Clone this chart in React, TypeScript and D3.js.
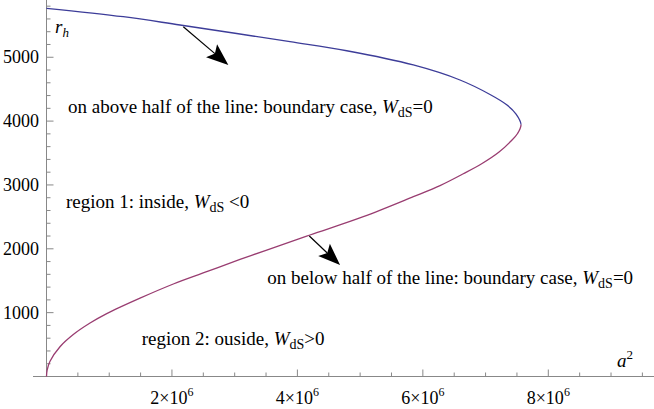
import React from "react";
import * as d3 from "d3";

// a^2 (in units of 1e6) and r_h along the lower branch (purple) then the upper branch (blue)
const lowerA2 = [0, 0.01, 0.056, 0.215, 0.427, 0.694, 0.96, 1.491, 2.022, 2.554, 3.085, 3.511, 4.2, 5.051, 5.848, 6.274, 6.645, 6.944, 7.215, 7.406, 7.51];
const lowerR = [0, 100, 238, 466, 657, 837, 985, 1227, 1449, 1641, 1834, 1981, 2216, 2503, 2816, 2990, 3175, 3336, 3516, 3688, 3806];
const noseA2 = 7.565;
const noseR = 3947;
const upperA2 = [7.486, 7.342, 7.071, 6.592, 5.848, 4.786, 3.882, 2.128, 1.224, 0];
const upperR = [4111, 4252, 4417, 4644, 4879, 5102, 5244, 5505, 5635, 5767];

const xMajor = [2, 4, 6, 8];
const yMajor = [1000, 2000, 3000, 4000, 5000];

const W = 654, H = 409;
const BLUE = "#3D3D99";
const PURPLE = "#993D71";
const AXIS = "#888888";
const FONT = "'Liberation Serif', 'Times New Roman', 'DejaVu Serif', serif";

export default function App() {
  const x = d3.scaleLinear().domain([0, 8]).range([46.5, 548.3]);
  const y = d3.scaleLinear().domain([0, 5000]).range([376.5, 57.25]);

  const line = d3
    .line<[number, number]>()
    .x((d) => x(d[0]))
    .y((d) => y(d[1]))
    .curve(d3.curveCatmullRom.alpha(0.5));

  const pts: [number, number][] = [
    ...lowerA2.map((a, i) => [a, lowerR[i]] as [number, number]),
    [noseA2, noseR],
    ...upperA2.map((a, i) => [a, upperR[i]] as [number, number]),
  ];
  const d = line(pts) || "";
  const split = y(noseR);

  const xMinor = d3.range(0.5, 9.75, 0.5).filter((v) => Math.abs(v % 2) > 1e-9);
  const yMinor = d3.range(200, 5801, 200).filter((v) => v % 1000 !== 0);

  const x0 = x(0);
  const y0 = y(0);

  const arrow = (sx: number, sy: number, tx: number, ty: number) => {
    const x1 = x(sx), y1 = y(sy), x2 = x(tx), y2 = y(ty);
    const dx = x2 - x1, dy = y2 - y1;
    const L = Math.hypot(dx, dy);
    const ux = dx / L, uy = dy / L;
    const px = -uy, py = ux;
    const hl = 22, hw = 8.5;
    const bx = x2 - ux * hl, by = y2 - uy * hl;
    const nx = x2 - ux * hl * 0.8, ny = y2 - uy * hl * 0.8;
    const head = `M${x2},${y2} L${bx + px * hw},${by + py * hw} L${nx},${ny} L${bx - px * hw},${by - py * hw} Z`;
    return (
      <g>
        <line x1={x1} y1={y1} x2={nx} y2={ny} stroke="#000" strokeWidth={1.2} />
        <path d={head} fill="#000" />
      </g>
    );
  };

  const fs = 19;
  const tstyle = { fontFamily: FONT };
  const wds = (rest: string, gap = false) => (
    <>
      <tspan fontStyle="italic">W</tspan>
      <tspan fontSize={14} dy={4}>dS</tspan>
      <tspan dy={-4}>{(gap ? " " : "") + rest}</tspan>
    </>
  );

  return (
    <svg width={W} height={H} style={{ position: "absolute", left: 0, top: 0, background: "#fff" }}>
      <defs>
        <clipPath id="clipLow">
          <rect x={0} y={split} width={W} height={H - split} />
        </clipPath>
        <clipPath id="clipHigh">
          <rect x={0} y={0} width={W} height={split} />
        </clipPath>
      </defs>
      {/* axes */}
      <line x1={33} y1={y0} x2={654} y2={y0} stroke={AXIS} strokeWidth={1} />
      <line x1={x0} y1={0} x2={x0} y2={y0} stroke={AXIS} strokeWidth={1} />
      {xMajor.map((v) => (
        <line key={"xM" + v} x1={x(v)} x2={x(v)} y1={y0} y2={y0 - 7} stroke={AXIS} />
      ))}
      {xMinor.map((v) => (
        <line key={"xm" + v} x1={x(v)} x2={x(v)} y1={y0} y2={y0 - 4} stroke={AXIS} />
      ))}
      {yMajor.map((v) => (
        <line key={"yM" + v} x1={x0} x2={x0 + 7} y1={y(v)} y2={y(v)} stroke={AXIS} />
      ))}
      {yMinor.map((v) => (
        <line key={"ym" + v} x1={x0} x2={x0 + 4} y1={y(v)} y2={y(v)} stroke={AXIS} />
      ))}
      {xMajor.map((v) => (
        <text key={"xl" + v} x={x(v)} y={404} textAnchor="middle" fontSize={18} style={tstyle}>
          <tspan>{v}×10</tspan>
          <tspan fontSize={12} dy={-8}>6</tspan>
        </text>
      ))}
      {yMajor.map((v) => (
        <text key={"yl" + v} x={39} y={y(v) + 6} textAnchor="end" fontSize={18} style={tstyle}>
          {v}
        </text>
      ))}

      {/* curve: lower branch purple, upper branch blue */}
      <path d={d} fill="none" stroke={PURPLE} strokeWidth={1.3} clipPath="url(#clipLow)" />
      <path d={d} fill="none" stroke={BLUE} strokeWidth={1.3} clipPath="url(#clipHigh)" />

      {/* arrows */}
      {arrow(2.181, 5478, 2.899, 4879)}
      {arrow(4.19, 2200, 4.68, 1746)}

      {/* annotations */}
      <text x={x(0.343)} y={y(4122)} fontSize={fs} style={tstyle}>
        {"on above half of the line: boundary case, "}
        {wds("=0")}
      </text>
      <text x={x(0.311)} y={y(2634)} fontSize={fs} style={tstyle}>
        {"region 1: inside, "}
        {wds("<0", true)}
      </text>
      <text x={x(3.52)} y={y(1444)} fontSize={fs} style={tstyle}>
        {"on below half of the line: boundary case, "}
        {wds("=0")}
      </text>
      <text x={x(1.518)} y={y(493)} fontSize={fs} style={tstyle}>
        {"region 2: ouside, "}
        {wds(">0")}
      </text>
      <text x={x(0.136)} y={y(5380)} fontSize={fs} style={tstyle}>
        <tspan fontStyle="italic">r</tspan>
        <tspan fontStyle="italic" fontSize={13} dy={4}>h</tspan>
      </text>
      <text x={x(9.096)} y={y(149)} fontSize={fs} style={tstyle}>
        <tspan fontStyle="italic">a</tspan>
        <tspan fontSize={13} dy={-8}>2</tspan>
      </text>
    </svg>
  );
}
